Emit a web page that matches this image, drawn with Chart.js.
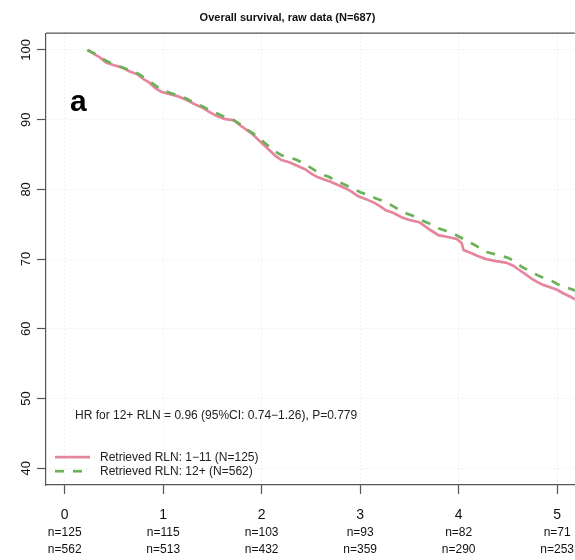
<!DOCTYPE html>
<html>
<head>
<meta charset="utf-8">
<script src="https://cdn.jsdelivr.net/npm/chart.js@4.4.1/dist/chart.umd.min.js"></script>
<style>
  body { margin: 0; background: #fff; }
  #wrap { width: 575px; height: 560px; }
</style>
</head>
<body>
<div id="wrap"><canvas id="osChart" width="575" height="560"></canvas></div>
<script>
// Kaplan-Meier estimates (years, % surviving) for the two RLN groups
const timesLow = [0.23, 0.30, 0.36, 0.42, 0.50, 0.58, 0.66, 0.74, 0.80, 0.86, 0.92, 0.98,
  1.06, 1.16, 1.24, 1.32, 1.40, 1.48, 1.55, 1.62, 1.72, 1.78, 1.84, 1.90, 1.96,
  2.02, 2.08, 2.14, 2.20, 2.28, 2.36, 2.44, 2.50, 2.56, 2.62, 2.70, 2.78, 2.86, 2.92, 2.98,
  3.06, 3.14, 3.20, 3.26, 3.34, 3.42, 3.50, 3.60, 3.66, 3.72, 3.80, 3.88, 3.98,
  4.03, 4.05, 4.12, 4.20, 4.28, 4.38, 4.48, 4.55, 4.62, 4.68, 4.74, 4.80, 4.86, 4.92,
  5.00, 5.06, 5.12, 5.20];
const survLow = [100, 99.4, 98.9, 98.2, 97.8, 97.5, 96.9, 96.5, 95.8, 95.3, 94.5, 94.0,
  93.7, 93.3, 92.8, 92.2, 91.7, 91.0, 90.5, 90.1, 89.9, 89.2, 88.6, 88.0, 87.2,
  86.4, 85.6, 84.8, 84.2, 83.9, 83.4, 82.9, 82.3, 81.8, 81.5, 81.1, 80.6, 80.1, 79.6, 79.0,
  78.6, 78.1, 77.6, 77.0, 76.6, 76.0, 75.6, 75.3, 74.7, 74.1, 73.4, 73.2, 72.9,
  72.3, 71.3, 70.9, 70.4, 70.0, 69.7, 69.5, 69.1, 68.4, 67.8, 67.2, 66.7, 66.3, 66.0,
  65.6, 65.1, 64.7, 64.1];

const timesHigh = [0.23, 0.30, 0.36, 0.44, 0.52, 0.60, 0.68, 0.76, 0.82, 0.88, 0.94, 1.00,
  1.08, 1.16, 1.24, 1.32, 1.40, 1.48, 1.56, 1.64, 1.72, 1.80, 1.88, 1.96,
  2.02, 2.08, 2.14, 2.20, 2.28, 2.36, 2.44, 2.52, 2.60, 2.68, 2.76, 2.84, 2.92,
  3.00, 3.08, 3.16, 3.24, 3.32, 3.38, 3.46, 3.54, 3.62, 3.70, 3.78, 3.86, 3.94,
  4.02, 4.10, 4.18, 4.26, 4.34, 4.42, 4.50, 4.58, 4.64, 4.72, 4.80, 4.86, 4.94,
  5.02, 5.10, 5.20];
const survHigh = [100, 99.5, 98.9, 98.3, 97.8, 97.4, 97.0, 96.5, 95.9, 95.3, 94.7, 94.2,
  93.8, 93.4, 93.0, 92.4, 91.9, 91.3, 90.8, 90.3, 89.9, 89.2, 88.3, 87.6,
  86.8, 86.1, 85.4, 84.9, 84.6, 84.2, 83.6, 82.9, 82.2, 81.8, 81.2, 80.7, 80.2,
  79.6, 79.2, 78.7, 78.3, 77.7, 77.2, 76.6, 76.2, 75.6, 75.1, 74.5, 74.1, 73.7,
  73.1, 72.5, 71.9, 71.1, 70.8, 70.5, 70.2, 69.6, 68.9, 68.3, 67.7, 67.3, 66.9,
  66.3, 65.9, 65.4];

// axis ticks and numbers at risk under each year
const xTicks = [0, 1, 2, 3, 4, 5];
const yTicks = [40, 50, 60, 70, 80, 90, 100];
const atRiskLow = [125, 115, 103, 93, 82, 71];
const atRiskHigh = [562, 513, 432, 359, 290, 253];

const seriesLabels = ["Retrieved RLN: 1\u221211 (N=125)", "Retrieved RLN: 12+ (N=562)"];
const hrText = "HR for 12+ RLN = 0.96 (95%CI: 0.74\u22121.26), P=0.779";
const panelLetter = "a";

const FONT = "'Liberation Sans', Arial, sans-serif";
const pink = "#e6869c";
const green = "#6cb158";
const frame = "#555";

function toPoints(ts, ss) {
  return ts.map((t, i) => ({ x: t, y: ss[i] }));
}

// top frame line, panel letter, HR note and the legend in the lower left
const decorations = {
  id: "decorations",
  afterDraw(chart) {
    const { ctx, chartArea: a } = chart;
    ctx.save();
    ctx.strokeStyle = frame;
    ctx.lineWidth = 1.2;
    ctx.beginPath();
    ctx.moveTo(a.left, a.top);
    ctx.lineTo(a.right, a.top);
    ctx.stroke();

    ctx.fillStyle = "#000";
    ctx.font = "bold 30px " + FONT;
    ctx.textAlign = "left";
    ctx.textBaseline = "middle";
    ctx.fillText(panelLetter, a.left + 24, a.top + 70);

    ctx.fillStyle = "#222";
    ctx.font = "12px " + FONT;
    ctx.fillText(hrText, a.left + 29, a.top + 382);

    chart.data.datasets.forEach((ds, i) => {
      const y = a.top + 424 + i * 14;
      ctx.strokeStyle = ds.borderColor;
      ctx.lineWidth = ds.borderWidth;
      ctx.setLineDash(ds.borderDash || []);
      ctx.beginPath();
      ctx.moveTo(a.left + 9, y);
      ctx.lineTo(a.left + 44, y);
      ctx.stroke();
      ctx.setLineDash([]);
      ctx.fillStyle = "#222";
      ctx.fillText(seriesLabels[i], a.left + 54, y);
    });
    ctx.restore();
  }
};

const ctx = document.getElementById("osChart").getContext("2d");
new Chart(ctx, {
  type: "line",
  data: {
    datasets: [
      {
        label: seriesLabels[0],
        data: toPoints(timesLow, survLow),
        borderColor: pink,
        borderWidth: 2.7,
        tension: 0,
        pointRadius: 0,
        order: 1
      },
      {
        label: seriesLabels[1],
        data: toPoints(timesHigh, survHigh),
        borderColor: green,
        borderWidth: 2.7,
        borderDash: [9, 9],
        tension: 0,
        pointRadius: 0,
        order: 0
      }
    ]
  },
  options: {
    responsive: false,
    animation: false,
    layout: { padding: { top: 0, right: 0, bottom: 0, left: 0 } },
    plugins: {
      legend: { display: false },
      tooltip: { enabled: false },
      title: {
        display: true,
        text: "Overall survival, raw data (N=687)",
        color: "#111",
        font: { family: FONT, size: 11, weight: "bold" },
        padding: { top: 11, bottom: 9 }
      }
    },
    scales: {
      x: {
        type: "linear",
        position: "bottom",
        weight: 0,
        min: -0.19,
        max: 5.18,
        afterBuildTicks: (s) => { s.ticks = xTicks.map(v => ({ value: v })); },
        afterFit: (s) => { s.height = 38; },
        grid: {
          color: "#e2e2e2",
          tickColor: frame,
          tickLength: 9,
          tickWidth: 1.2,
          tickBorderDash: [0, 0]
        },
        border: { color: frame, width: 1.2, dash: [1, 3] },
        ticks: {
          color: "#111",
          font: { family: FONT, size: 14 },
          padding: 13,
          maxRotation: 0
        }
      },
      x2: {
        type: "linear",
        position: "bottom",
        weight: 1,
        min: -0.19,
        max: 5.18,
        afterBuildTicks: (s) => { s.ticks = xTicks.map(v => ({ value: v })); },
        afterFit: (s) => { s.height = 37; },
        grid: { display: false, drawTicks: false },
        border: { display: false },
        ticks: {
          color: "#111",
          font: { family: FONT, size: 12, lineHeight: 1.4 },
          padding: 1,
          maxRotation: 0,
          callback: (v, i) => ["n=" + atRiskLow[i], "n=" + atRiskHigh[i]]
        }
      },
      y: {
        type: "linear",
        min: 37.6,
        max: 102.4,
        afterBuildTicks: (s) => { s.ticks = yTicks.map(v => ({ value: v })); },
        afterFit: (s) => { s.width = 46; },
        grid: {
          color: "#e2e2e2",
          tickColor: frame,
          tickLength: 9,
          tickWidth: 1.2,
          tickBorderDash: [0, 0]
        },
        border: { color: frame, width: 1.2, dash: [1, 3] },
        ticks: {
          color: "#111",
          font: { family: FONT, size: 13 },
          minRotation: 90,
          maxRotation: 90,
          crossAlign: "center",
          padding: 0
        }
      }
    }
  },
  plugins: [decorations]
});
</script>
</body>
</html>
